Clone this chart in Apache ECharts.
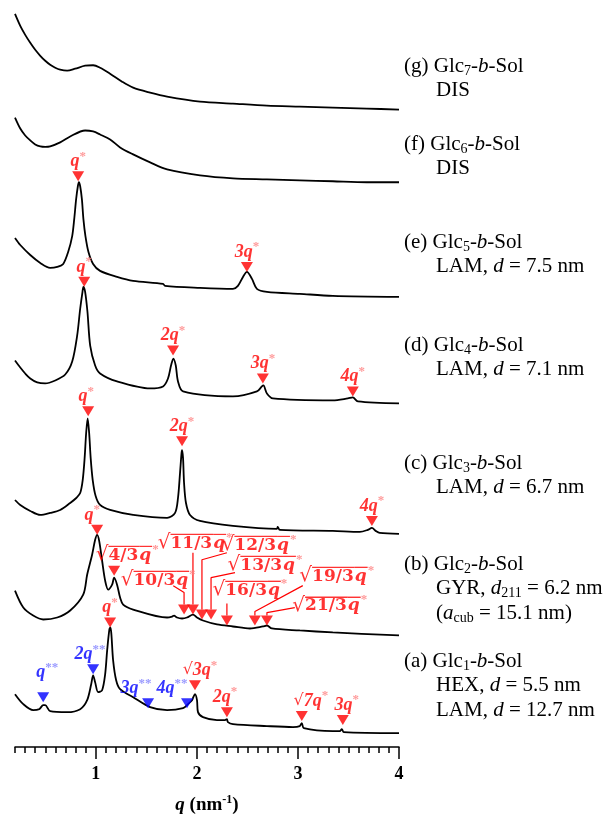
<!DOCTYPE html>
<html><head><meta charset="utf-8">
<script src="https://cdn.jsdelivr.net/npm/echarts@6/dist/echarts.min.js"></script>
<style>html,body{margin:0;padding:0;background:#fff}#c{width:606px;height:821px}</style>
</head><body><div id="c"></div>
<script>
// ---------- data (q in nm^-1, offset intensity in arbitrary units) ----------
const qMajor = [1, 2, 3, 4];
const qMinor = [];
for (let k = 2; k <= 40; k++) qMinor.push(k / 10);

const glc7 = [[0.2,736],[0.252,724],[0.301,715],[0.351,707],[0.4,700],[0.45,694],[0.499,689],[0.548,685],[0.598,682],[0.647,680],[0.716,679],[0.795,681],[0.894,684],[0.973,684.5],[1.042,682],[1.141,676],[1.26,668],[1.369,662],[1.537,657],[1.705,653],[2.031,648],[2.357,646],[2.693,644],[3.018,643],[3.345,642],[3.682,641],[4.0,640]];
const glc6 = [[0.2,632],[0.252,621],[0.301,614],[0.351,609],[0.4,605],[0.45,603],[0.499,602.5],[0.548,603],[0.647,607],[0.746,613],[0.894,619],[0.973,618],[1.042,615],[1.141,610],[1.24,602],[1.369,595],[1.537,587],[1.705,580],[2.031,574],[2.357,571],[2.693,570],[3.018,569],[3.345,568],[3.682,567],[4.0,567]];
const glc5 = [[0.2,511],[0.252,504],[0.351,494],[0.45,486],[0.548,481],[0.618,482],[0.677,485],[0.726,497],[0.766,513],[0.786,530],[0.805,550],[0.822,563],[0.832,567],[0.845,563],[0.862,550],[0.877,530],[0.897,513],[0.927,497],[0.973,485],[1.042,478],[1.21,472],[1.369,468],[1.665,465],[1.685,463],[2.031,461],[2.357,460],[2.406,463],[2.456,472],[2.495,477],[2.545,470],[2.594,460],[2.693,457],[3.018,455],[3.345,453],[4.0,452]];
const glc4 = [[0.2,388],[0.252,381],[0.301,375],[0.351,370],[0.42,366],[0.499,365],[0.598,368],[0.697,374],[0.766,387],[0.815,413],[0.845,440],[0.868,457],[0.877,462],[0.894,457],[0.917,437],[0.944,403],[0.993,383],[1.042,375],[1.21,367],[1.537,360],[1.665,362],[1.714,370],[1.744,383],[1.767,390],[1.791,383],[1.813,367],[1.863,357],[2.357,352],[2.594,357],[2.643,362],[2.658,363],[2.693,355],[2.752,350],[3.345,348],[3.494,350],[3.543,351],[3.593,347],[4.0,345]];
const glc3 = [[0.2,248],[0.252,243],[0.351,237],[0.45,233],[0.548,235],[0.647,238],[0.746,245],[0.806,250],[0.845,255],[0.870,268],[0.889,290],[0.904,315],[0.919,330],[0.934,315],[0.949,290],[0.969,268],[0.998,252],[1.042,243],[1.141,238],[1.369,233],[1.705,230],[1.784,235],[1.813,250],[1.833,275],[1.848,295],[1.853,298],[1.863,290],[1.873,265],[1.892,245],[1.932,233],[2.031,227],[2.357,222],[2.791,219],[2.8,221],[2.821,218],[3.345,217],[3.612,216],[3.691,218],[3.732,220],[3.77,217],[3.809,215],[4.0,214]];
const glc2 = [[0.2,157],[0.282,140],[0.38,132],[0.479,128],[0.618,130],[0.746,137],[0.875,153],[0.914,173],[0.963,193],[0.993,208],[1.013,213],[1.033,207],[1.062,187],[1.092,167],[1.122,158],[1.161,163],[1.181,170],[1.21,163],[1.24,150],[1.27,143],[1.369,138],[1.705,130],[1.755,131],[1.774,132],[1.803,130],[1.853,129],[1.902,130],[1.961,133],[2.001,130],[2.06,127],[2.199,123],[2.357,121],[2.525,119],[2.653,121],[2.693,122],[2.742,119],[3.018,117],[3.345,115],[4.0,112]];
const glc1 = [[0.2,53],[0.282,43],[0.38,37],[0.44,38],[0.479,42],[0.499,42],[0.548,36],[0.716,35],[0.845,38],[0.914,47],[0.954,63],[0.973,72],[0.993,65],[1.023,55],[1.062,57],[1.092,73],[1.112,97],[1.134,118],[1.144,120],[1.154,113],[1.171,87],[1.201,67],[1.24,58],[1.369,50],[1.537,40],[1.705,37],[1.863,39],[1.912,43],[1.952,47],[1.964,50],[1.981,53],[2.001,47],[2.011,35],[2.06,30],[2.199,27],[2.278,27],[2.297,28],[2.307,25],[2.357,23],[2.693,21],[2.951,20],[3.018,21],[3.038,24],[3.058,19],[3.345,16],[3.414,16],[3.434,18],[3.454,15],[4.0,14]];
const curves = [glc7, glc6, glc5, glc4, glc3, glc2, glc1];

// red peak markers (q, offset intensity) and their labels
const redQ = [0.825, 2.495, 0.885, 1.764, 2.653, 3.543, 0.924, 1.853, 3.732, 1.013, 1.181, 1.873, 1.961, 2.05, 2.14, 2.297, 2.574, 2.693, 1.141, 1.981, 2.297, 3.038, 3.444];
const redI = [573, 482, 467, 398, 370, 357, 337, 307, 227, 218, 177, 138, 138, 133, 133, 127, 127, 127, 125, 62, 35, 31, 27];
const redText = ['q*','3q*','q*','2q*','3q*','4q*','q*','2q*','4q*','q*','','','','','','','','','q*','√3q*','2q*','√7q*','3q*'];
// blue peak markers
const blueQ = [0.479, 0.973, 1.517, 1.902];
const blueI = [50, 78, 44, 44];
const blueText = ['q**','2q**','3q**','4q**'];
// sqrt-ratio labels of the gyroid pattern (b)
const sqrtQ = [1.31, 1.617, 1.983, 2.615, 2.674, 2.525, 3.384, 3.315];
const sqrtI = [193, 168, 205, 203, 183, 158, 172, 142];
const sqrtText = ['4/3','10/3','11/3','12/3','13/3','16/3','19/3','21/3'];
// leader lines from labels to peak markers
const leaders = [
  [[1.766,162],[1.873,155],[1.873,143]],
  [[1.961,195],[1.961,143]],
  [[2.297,195],[2.05,188],[2.05,138]],
  [[2.377,175],[2.14,170],[2.14,138]],
  [[2.297,144],[2.297,132]],
  [[3.048,162],[2.574,136],[2.574,132]],
  [[2.969,140],[2.693,135],[2.693,132]]
];
// sample descriptions
const panelText = [
  ['(g) Glc{sub|7}-{i|b}-Sol', 'DIS'],
  ['(f) Glc{sub|6}-{i|b}-Sol', 'DIS'],
  ['(e) Glc{sub|5}-{i|b}-Sol', 'LAM, {i|d} = 7.5 nm'],
  ['(d) Glc{sub|4}-{i|b}-Sol', 'LAM, {i|d} = 7.1 nm'],
  ['(c) Glc{sub|3}-{i|b}-Sol', 'LAM, {i|d} = 6.7 nm'],
  ['(b) Glc{sub|2}-{i|b}-Sol', 'GYR, {i|d}{sub|211} = 6.2 nm', '({i|a}{sub|cub} = 15.1 nm)'],
  ['(a) Glc{sub|1}-{i|b}-Sol', 'HEX, {i|d} = 5.5 nm', 'LAM, {i|d} = 12.7 nm']
];

// ---------- styling / layout ----------
const panelTop = [66, 144, 242, 345, 463, 564, 661];
const lineStep = 24.5;
const redShift = [[0,0],[0,0],[0,0],[0,0],[0,0],[0,0],[-2,0],[0,0],[0,0],[-5,0],[0,0],[0,0],[0,0],[0,0],[0,0],[0,0],[0,0],[0,0],[0,0],[5,0],[-2,0],[9,0],[4,0]];
const blueShift = [[4,-10],[-3,0],[-12,0],[-15,0]];

const RED = '#ff0000', PINK = '#ff8080', BLUE = '#0000ff', LBLUE = '#8080ff';
const overline = new echarts.graphic.LinearGradient(0, 0, 0, 1, [
  {offset: 0, color: RED}, {offset: 0.08, color: RED},
  {offset: 0.081, color: 'rgba(255,0,0,0)'}, {offset: 1, color: 'rgba(255,0,0,0)'}
]);

function peakRich(color, star) {
  const base = {fontFamily: 'Liberation Serif', fontWeight: 'bold', fontStyle: 'italic', fontSize: 18, color: color, verticalAlign: 'middle', lineHeight: 18};
  return {
    n: base,
    r: {fontFamily: 'DejaVu Sans', fontSize: 16, color: color, verticalAlign: 'middle', lineHeight: 18},
    s: {fontFamily: 'Liberation Serif', fontWeight: 'bold', fontSize: 13, color: star, verticalAlign: 'middle', padding: [0, 0, 10, 0], lineHeight: 18}
  };
}
function peakLabel(t) {
  if (!t) return '';
  let out = '';
  let rest = t;
  if (rest[0] === '√') { out += '{r|√}'; rest = rest.slice(1); }
  const m = rest.match(/^([0-9]*)q(\**)$/);
  out += '{n|' + m[1] + 'q}{s|' + m[2] + '}';
  return out;
}

const series = curves.map(c => ({
  type: 'line', data: c, symbol: 'none', smooth: 0.3,
  lineStyle: {color: '#000', width: 1.8}, z: 2, silent: true
}));

series.push({
  type: 'scatter', symbol: 'triangle', symbolRotate: 180, symbolSize: [12, 10],
  itemStyle: {color: RED}, z: 5,
  label: {show: true, position: 'top', distance: 1, rich: peakRich(RED, PINK)},
  data: redQ.map((q, i) => ({value: [q, redI[i]], label: {formatter: peakLabel(redText[i]), offset: redShift[i]}}))
});
series.push({
  type: 'scatter', symbol: 'triangle', symbolRotate: 180, symbolSize: [12, 10],
  itemStyle: {color: BLUE}, z: 5,
  label: {show: true, position: 'top', distance: 1, rich: peakRich(BLUE, LBLUE)},
  data: blueQ.map((q, i) => ({value: [q, blueI[i]], label: {formatter: peakLabel(blueText[i]), offset: blueShift[i]}}))
});
leaders.forEach(l => series.push({
  type: 'line', data: l, symbol: 'none', lineStyle: {color: RED, width: 1.2}, z: 4, silent: true
}));
series.push({
  type: 'scatter', symbol: 'circle', symbolSize: 1, itemStyle: {color: 'rgba(0,0,0,0)'}, z: 6,
  label: {
    show: true, position: 'inside',
    rich: {
      rt: {fontFamily: 'DejaVu Sans', fontSize: 20, color: RED, verticalAlign: 'middle', lineHeight: 22},
      ov: {fontFamily: 'DejaVu Serif', fontWeight: 'bold', fontSize: 17, color: RED, verticalAlign: 'middle', lineHeight: 20, padding: [1, 1, 0, 0], backgroundColor: overline},
      oq: {fontFamily: 'DejaVu Serif', fontWeight: 'bold', fontStyle: 'italic', fontSize: 17, color: RED, verticalAlign: 'middle', lineHeight: 20, padding: [1, 1, 0, 0], backgroundColor: overline},
      st: {fontFamily: 'Liberation Serif', fontWeight: 'bold', fontSize: 13, color: PINK, verticalAlign: 'middle', padding: [0, 0, 11, 0], lineHeight: 18}
    }
  },
  data: sqrtQ.map((q, i) => ({value: [q, sqrtI[i]], label: {formatter: '{rt|√}{ov|' + sqrtText[i] + '}{oq|q}{st|*}'}}))
});

const textRich = {
  t: {fontFamily: 'Liberation Serif', fontSize: 21, color: '#000', verticalAlign: 'middle', lineHeight: 22},
  i: {fontFamily: 'Liberation Serif', fontSize: 21, fontStyle: 'italic', color: '#000', verticalAlign: 'middle', lineHeight: 22},
  sub: {fontFamily: 'Liberation Serif', fontSize: 14, color: '#000', verticalAlign: 'middle', lineHeight: 22, padding: [10, 0, 0, 0]}
};
function wrapPlain(s) {
  return s.split(/(\{[a-z]+\|[^}]*\})/).filter(x => x).map(x => x[0] === '{' ? x : '{t|' + x + '}').join('');
}
const graphics = [];
panelText.forEach((lines, k) => {
  lines.forEach((ln, j) => {
    graphics.push({
      type: 'text', x: j === 0 ? 404 : 436, y: panelTop[k] + j * lineStep,
      style: {text: wrapPlain(ln), rich: textRich, align: 'left', verticalAlign: 'middle', font: '21px "Liberation Serif"', fill: '#000'}
    });
  });
});

const chart = echarts.init(document.getElementById('c'), null, {renderer: 'canvas'});
chart.setOption({
  animation: false,
  backgroundColor: '#fff',
  grid: {left: 15, right: 207, top: 0, bottom: 71},
  xAxis: [
    {
      type: 'value', min: 0.2, max: 4, position: 'bottom',
      axisLine: {show: true, lineStyle: {color: '#000', width: 1.5}},
      axisTick: {show: true, customValues: qMajor, length: 12, lineStyle: {color: '#000', width: 1.5}},
      axisLabel: {customValues: qMajor, formatter: v => String(v), margin: 18, fontFamily: 'Liberation Serif', fontWeight: 'bold', fontSize: 18, color: '#000'},
      splitLine: {show: false},
      name: '{q|q}{t| (nm}{sup|-1}{t|)}', nameLocation: 'middle', nameGap: 48,
      nameTextStyle: {
        fontFamily: 'Liberation Serif', fontWeight: 'bold', fontSize: 18, color: '#000',
        rich: {
          q: {fontFamily: 'Liberation Serif', fontWeight: 'bold', fontStyle: 'italic', fontSize: 19, color: '#000', verticalAlign: 'middle', lineHeight: 20},
          t: {fontFamily: 'Liberation Serif', fontWeight: 'bold', fontSize: 19, color: '#000', verticalAlign: 'middle', lineHeight: 20},
          sup: {fontFamily: 'Liberation Serif', fontWeight: 'bold', fontSize: 12, color: '#000', verticalAlign: 'middle', lineHeight: 20, padding: [0, 0, 10, 0]}
        }
      }
    },
    {
      type: 'value', min: 0.2, max: 4, position: 'bottom',
      axisLine: {show: false},
      axisTick: {show: true, customValues: qMinor, length: 6, lineStyle: {color: '#000', width: 1.5}},
      axisLabel: {show: false}, splitLine: {show: false}
    }
  ],
  yAxis: {type: 'value', min: 0, max: 750, show: false},
  series: series,
  graphic: graphics
});
</script></body></html>
